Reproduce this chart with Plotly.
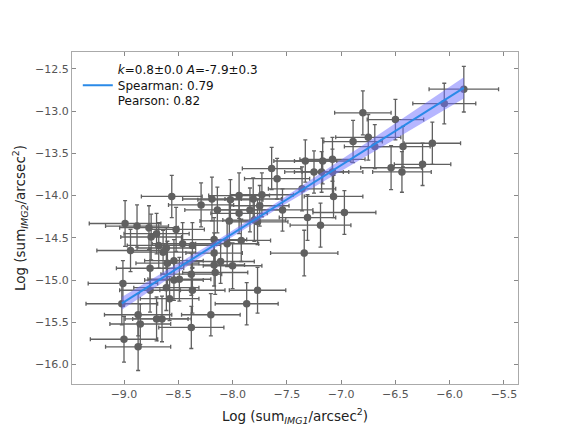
import numpy as np
import plotly.graph_objects as go

# log summed flux per arcsec^2, IMG1 (x) vs IMG2 (y)
log_img1 = [-5.87, -6.05, -6.80, -6.50, -6.89, -6.75, -6.69, -6.43, -6.16, -6.25,
            -6.54, -6.44, -7.33, -7.17, -7.08, -7.25, -7.18, -7.08, -7.36, -7.07,
            -6.97, -7.31, -7.64, -7.59, -7.19, -7.34, -7.77, -7.87, -8.19, -8.02,
            -7.94, -7.81, -7.73, -7.75, -7.84, -7.54, -8.14, -7.94, -8.03, -7.80,
            -7.77, -8.17, -7.92, -8.05, -8.17, -8.11, -8.17, -8.00, -8.16, -8.56,
            -8.29, -8.99, -8.88, -8.77, -8.70, -8.75, -8.52, -8.94, -8.68, -8.61,
            -8.64, -8.46, -8.37, -8.60, -8.54, -8.76, -9.01, -8.76, -9.02, -8.61,
            -8.54, -8.49, -8.38, -8.37, -8.58, -8.87, -8.85, -8.70, -8.65, -8.38,
            -8.20, -9.00, -8.87]
log_img2 = [-12.74, -12.91, -13.02, -13.10, -13.36, -13.31, -13.42, -13.42, -13.38, -13.63,
            -13.67, -13.72, -13.59, -13.59, -13.57, -13.72, -13.72, -13.72, -13.92, -14.01,
            -14.20, -14.26, -13.68, -13.80, -14.35, -14.68, -15.12, -15.28, -14.04, -14.05,
            -14.00, -14.04, -13.99, -14.12, -14.17, -14.17, -14.17, -14.21, -14.30, -14.29,
            -14.31, -14.52, -14.53, -14.57, -14.68, -14.78, -14.82, -14.83, -14.91, -14.01,
            -14.11, -14.33, -14.36, -14.38, -14.45, -14.49, -14.40, -14.65, -14.59, -14.62,
            -14.67, -14.57, -14.59, -14.80, -14.77, -14.86, -15.04, -15.12, -15.28, -15.09,
            -15.00, -14.99, -14.93, -15.12, -15.22, -15.41, -15.52, -15.46, -15.46, -15.56,
            -15.41, -15.70, -15.79]
err_img1 = [0.32, 0.29, 0.26, 0.26, 0.27, 0.30, 0.28, 0.25, 0.26, 0.26,
            0.28, 0.27, 0.29, 0.26, 0.30, 0.27, 0.25, 0.28, 0.31, 0.27,
            0.29, 0.26, 0.27, 0.30, 0.28, 0.31, 0.26, 0.29, 0.27, 0.30,
            0.28, 0.26, 0.29, 0.27, 0.31, 0.28, 0.30, 0.26, 0.27, 0.29,
            0.28, 0.30, 0.27, 0.29, 0.26, 0.31, 0.28, 0.27, 0.30, 0.28,
            0.30, 0.33, 0.29, 0.27, 0.30, 0.28, 0.26, 0.31, 0.29, 0.27,
            0.30, 0.28, 0.26, 0.29, 0.27, 0.31, 0.32, 0.28, 0.33, 0.30,
            0.27, 0.29, 0.28, 0.30, 0.27, 0.31, 0.28, 0.29, 0.27, 0.30,
            0.27, 0.31, 0.30]
err_img2 = [0.27, 0.24, 0.26, 0.24, 0.25, 0.27, 0.26, 0.24, 0.25, 0.25,
            0.26, 0.24, 0.25, 0.27, 0.26, 0.25, 0.24, 0.27, 0.26, 0.25,
            0.26, 0.27, 0.25, 0.24, 0.26, 0.27, 0.27, 0.25, 0.26, 0.24,
            0.27, 0.25, 0.26, 0.24, 0.26, 0.25, 0.27, 0.24, 0.26, 0.25,
            0.27, 0.26, 0.25, 0.27, 0.24, 0.26, 0.25, 0.27, 0.26, 0.25,
            0.26, 0.27, 0.25, 0.26, 0.24, 0.27, 0.26, 0.25, 0.27, 0.24,
            0.26, 0.25, 0.27, 0.26, 0.25, 0.24, 0.27, 0.26, 0.25, 0.27,
            0.24, 0.26, 0.25, 0.27, 0.26, 0.25, 0.24, 0.26, 0.27, 0.25,
            0.25, 0.27, 0.28]

# linear fit y = k*x + A as drawn, with its confidence band
fit_k = 0.81
fit_A = -7.97
band_center = 0.035
band_slope = 0.06

legend_label = ("<i>k</i>=0.8±0.0 <i>A</i>=-7.9±0.3<br>"
                "Spearman: 0.79<br>Pearson: 0.82")

x = np.array(log_img1)
xl = np.linspace(x.min(), x.max(), 60)
yl = fit_k * xl + fit_A
half = np.sqrt(band_center**2 + (band_slope * (xl - x.mean()))**2)

grey = '#606060'
fig = go.Figure()
fig.add_trace(
    go.Scatter(
        x=log_img1, y=log_img2, mode='markers',
        marker=dict(size=7.5, color=grey),
        error_x=dict(type='data', array=err_img1, color=grey, thickness=1.3, width=2),
        error_y=dict(type='data', array=err_img2, color=grey, thickness=1.3, width=2),
        showlegend=False
    )
)
fig.add_trace(
    go.Scatter(
        x=np.concatenate([xl, xl[::-1]]),
        y=np.concatenate([yl + half, (yl - half)[::-1]]),
        fill='toself', fillcolor='rgba(110,110,255,0.5)',
        line=dict(width=0), mode='lines', hoverinfo='skip', showlegend=False
    )
)
fig.add_trace(
    go.Scatter(
        x=xl, y=yl, mode='lines',
        line=dict(color='#2a8ae8', width=2),
        name=legend_label
    )
)

axis_style = dict(
    showline=True, linecolor='#aaaaaa', linewidth=1, mirror='ticks',
    ticks='inside', ticklen=4, tickcolor='#888888', tickwidth=1,
    showgrid=False, zeroline=False, tickformat='.1f', dtick=0.5,
    tickfont=dict(size=11, color='#555555'), automargin=False
)
fig.update_xaxes(**axis_style, range=[-9.479, -5.371],
                 title=dict(text='Log (sum<sub><i>IMG1</i></sub>/arcsec<sup>2</sup>)',
                            font=dict(size=13.5, color='#222222'), standoff=11))
fig.update_yaxes(**axis_style, range=[-16.23, -12.30],
                 title=dict(text='Log (sum<sub><i>IMG2</i></sub>/arcsec<sup>2</sup>)',
                            font=dict(size=13.5, color='#222222'), standoff=6))
fig.update_layout(
    width=576, height=432,
    margin=dict(l=72, r=58, t=52, b=48),
    paper_bgcolor='white', plot_bgcolor='white',
    font=dict(family='DejaVu Sans', color='#222222'),
    legend=dict(x=0.013, y=0.99, xanchor='left', yanchor='top',
                bgcolor='rgba(0,0,0,0)', font=dict(size=12, color='#111111'),
                tracegroupgap=0)
)
# drop the browser's default page margin so the figure sits at the corner
fig.write_html("out.html", config={'displayModeBar': False},
               post_script="document.body.style.margin='0';")
